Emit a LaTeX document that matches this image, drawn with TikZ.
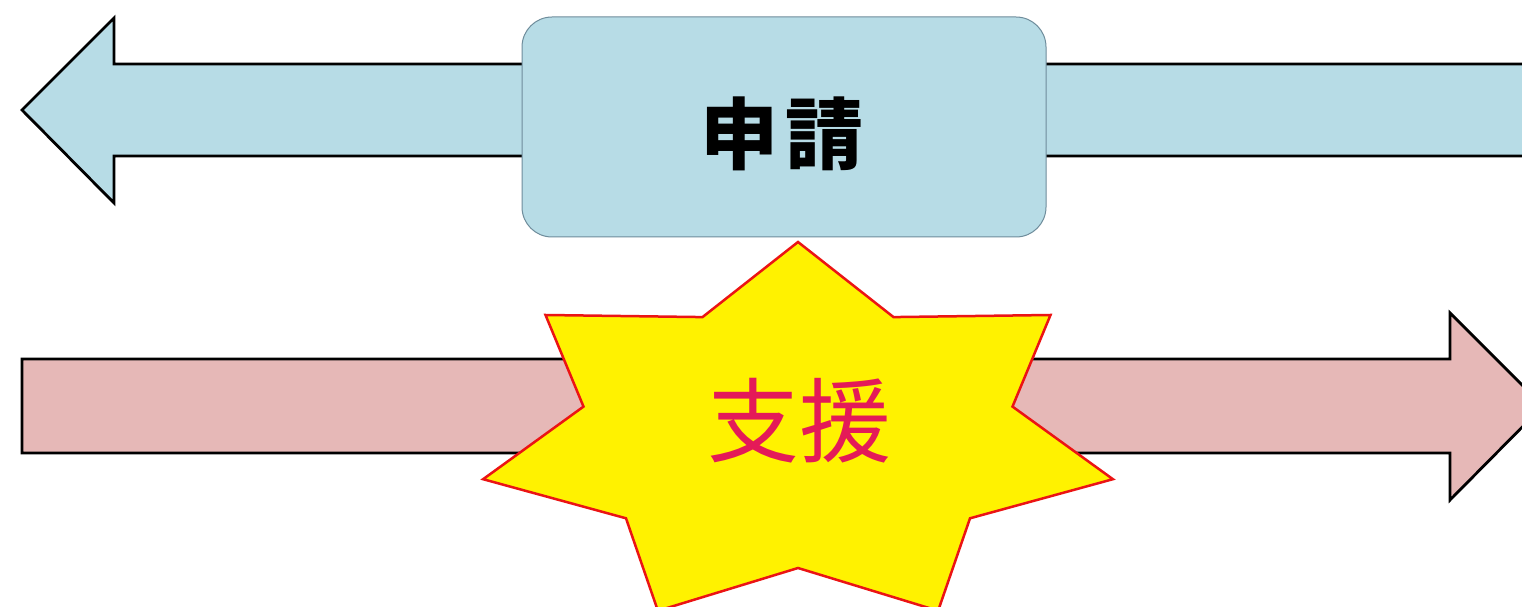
\documentclass[tikz,border=0pt]{standalone}
\usepackage{fontspec}
\newfontfamily\cjk{Noto Sans CJK JP}
\definecolor{bluefill}{RGB}{183,220,230}
\definecolor{boxline}{RGB}{110,140,155}
\definecolor{pinkfill}{RGB}{230,184,183}
\definecolor{starline}{RGB}{235,20,20}
\definecolor{startext}{RGB}{228,26,88}
\tikzset{
  arrowshape/.style={draw=black, line width=2.8pt, line join=miter},
  applybox/.style={draw=boxline, line width=1pt, fill=bluefill, rounded corners=30pt,
    minimum width=524pt, minimum height=220pt, inner sep=0pt},
  burst/.style={draw=starline, line width=2.5pt, fill=yellow, line join=miter},
}
\begin{document}
\begin{tikzpicture}[x=1pt,y=1pt]
\useasboundingbox (0,0) rectangle (1522,607);
\fill[white] (0,0) rectangle (1522,607);
% top blue arrow (pointing left)
\draw[arrowshape, fill=bluefill] (22,497) -- (114,589) -- (114,543) -- (1535,543)
  -- (1535,451) -- (114,451) -- (114,404) -- cycle;
% box
\node[applybox] (apply) at (784,480) {};
\node[font=\cjk\bfseries\fontsize{78}{80}\selectfont] (applytext) at (782,473) {申\hspace{8pt}請};
% bottom pink arrow (pointing right)
\draw[arrowshape, fill=pinkfill] (22,248) -- (1450,248) -- (1450,294) -- (1543,201)
  -- (1450,107) -- (1450,154) -- (22,154) -- cycle;
% star burst
\draw[burst] (798,365) -- (702.5,289.9) -- (545.5,292) -- (583.5,200.4) -- (483.1,127.8)
  -- (626,88.7) -- (657.9,-3.8) -- (798,39) -- (938.1,-3.8) -- (970,88.7)
  -- (1112.9,127.8) -- (1012.5,200.4) -- (1050.5,292) -- (893.5,289.9) -- cycle;
\node[font=\cjk\fontsize{92}{94}\selectfont, text=startext] (support) at (799,186) {支援};
\end{tikzpicture}
\end{document}
